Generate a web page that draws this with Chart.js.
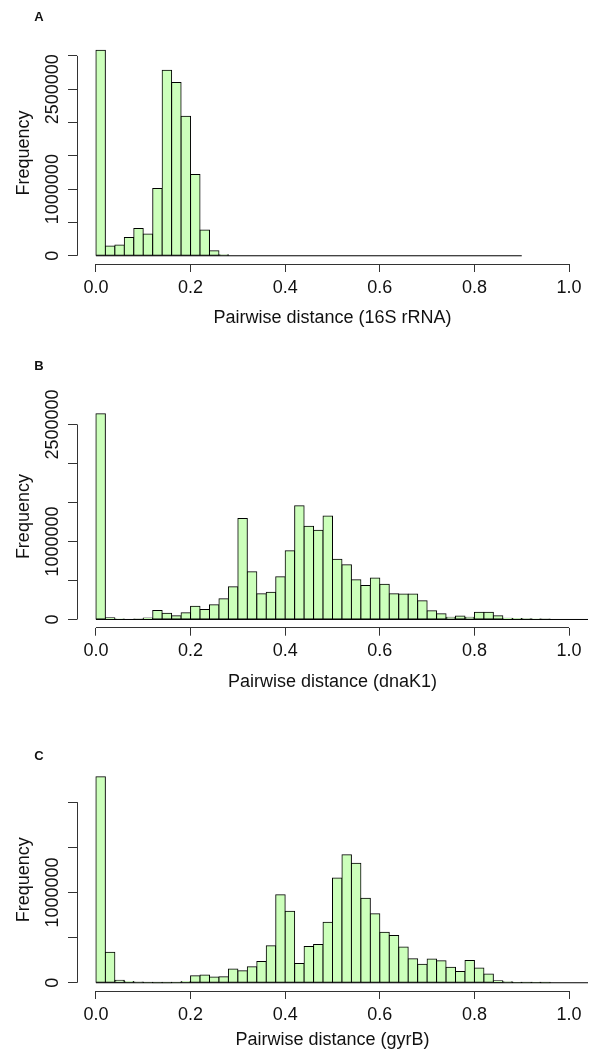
<!DOCTYPE html>
<html>
<head>
<meta charset="utf-8">
<script src="https://cdn.jsdelivr.net/npm/chart.js@4.4.1/dist/chart.umd.min.js"></script>
<style>
  body { margin: 0; background: #fff; width: 592px; height: 1053px; position: relative; overflow: hidden; }
  canvas { position: absolute; left: 0; }
</style>
</head>
<body>
<canvas id="chartA" width="592" height="351" style="top:0px"></canvas>
<canvas id="chartB" width="592" height="351" style="top:351px"></canvas>
<canvas id="chartC" width="592" height="351" style="top:702px"></canvas>
<script>
// histogram bins (left edges), width 0.02
const bins = [0.00, 0.02, 0.04, 0.06, 0.08, 0.10, 0.12, 0.14, 0.16, 0.18,
              0.20, 0.22, 0.24, 0.26, 0.28, 0.30, 0.32, 0.34, 0.36, 0.38,
              0.40, 0.42, 0.44, 0.46, 0.48, 0.50, 0.52, 0.54, 0.56, 0.58,
              0.60, 0.62, 0.64, 0.66, 0.68, 0.70, 0.72, 0.74, 0.76, 0.78,
              0.80, 0.82, 0.84, 0.86, 0.88, 0.90, 0.92, 0.94, 0.96, 0.98,
              1.00, 1.02]
const binWidth = 0.02
const xTicks = [0, 0.2, 0.4, 0.6, 0.8, 1.0]

// 16S rRNA
const counts16S = [3085000, 145000, 160000, 276000, 411000, 325000, 1011000, 2785000, 2600000, 2095000,
                   1221000, 385000, 75000, 15000, 0, 0, 0, 0, 0, 0,
                   0, 0, 0, 0, 0, 0, 0, 0, 0, 0,
                   0, 0, 0, 0, 0, 0, 0, 0, 0, 0,
                   0, 0, 0, 0, 0]
// dnaK1
const countsDnaK = [2637000, 21000, 3000, 0, 2000, 20000, 115000, 81000, 47000, 85000,
                    171000, 128000, 188000, 265000, 419000, 1295000, 611000, 329000, 350000, 547000,
                    880000, 1457000, 1196000, 1145000, 1325000, 773000, 701000, 508000, 436000, 530000,
                    453000, 329000, 325000, 325000, 239000, 111000, 73000, 30000, 43000, 30000,
                    94000, 94000, 47000, 17000, 13000, 8000, 3000, 1000, 0, 0,
                    0, 0]
// gyrB
const countsGyrB = [2282000, 339000, 29000, 15000, 7000, 2000, 1000, 1000, 2000, 15000,
                    77000, 85000, 63000, 66000, 151000, 133000, 177000, 236000, 409000, 973000,
                    793000, 214000, 402000, 424000, 671000, 1161000, 1416000, 1324000, 937000, 763000,
                    560000, 524000, 395000, 265000, 206000, 262000, 243000, 173000, 125000, 247000,
                    162000, 96000, 22000, 11000, 4000, 2000, 3000, 1000, 0, 0,
                    0, 0]

const yTicks16S = [0, 500000, 1000000, 1500000, 2000000, 2500000, 3000000]
const yLabels16S = [0, 1000000, 2500000]
const yTicksDnaK = [0, 500000, 1000000, 1500000, 2000000, 2500000]
const yLabelsDnaK = [0, 1000000, 2500000]
const yTicksGyrB = [0, 500000, 1000000, 1500000, 2000000]
const yLabelsGyrB = [0, 1000000]

const FONT = '"Liberation Sans", Arial, Helvetica, sans-serif'
const INK = '#111'
const AXIS = '#333'

// R-style axes: lines only from first to last tick, rotated y labels
const rAxes = {
    id: 'rAxes',
    afterDatasetsDraw(chart, args, opts){
        const {ctx, chartArea, scales: {x, y}} = chart
        ctx.save()
        ctx.beginPath()
        ctx.rect(chartArea.left, chartArea.top, chartArea.width, chartArea.height)
        ctx.clip()
        // empty bins still leave their outline on the baseline
        const x0 = x.getPixelForValue(opts.bins[0])
        const x1 = x.getPixelForValue(opts.bins[opts.bins.length - 1] + binWidth)
        const y0 = y.getPixelForValue(0)
        ctx.beginPath()
        ctx.strokeStyle = '#000'
        ctx.lineWidth = 1
        ctx.moveTo(x0, y0)
        ctx.lineTo(x1, y0)
        ctx.stroke()
        ctx.restore()
    },
    afterDraw(chart, args, opts){
        const {ctx, chartArea, scales: {x, y}} = chart
        ctx.save()
        ctx.strokeStyle = AXIS
        ctx.lineWidth = 1
        const bx = Math.floor(chartArea.bottom) + 0.5
        ctx.beginPath()
        ctx.moveTo(x.getPixelForValue(xTicks[0]), bx)
        ctx.lineTo(x.getPixelForValue(xTicks[xTicks.length - 1]), bx)
        const lx = Math.floor(chartArea.left) + 0.5
        ctx.moveTo(lx, y.getPixelForValue(opts.yTicks[0]))
        ctx.lineTo(lx, y.getPixelForValue(opts.yTicks[opts.yTicks.length - 1]))
        ctx.stroke()

        ctx.fillStyle = INK
        ctx.textAlign = 'center'
        ctx.textBaseline = 'middle'
        ctx.font = '18px ' + FONT
        opts.yLabels.forEach(v => {
            ctx.save()
            ctx.translate(chartArea.left - 24, y.getPixelForValue(v))
            ctx.rotate(-Math.PI / 2)
            ctx.fillText(String(v), 0, 0)
            ctx.restore()
        })
        ctx.save()
        ctx.translate(chartArea.left - 53, (chartArea.top + chartArea.bottom) / 2)
        ctx.rotate(-Math.PI / 2)
        ctx.fillText('Frequency', 0, 0)
        ctx.restore()

        ctx.font = 'bold 13px ' + FONT
        ctx.fillText(opts.letter, 39, opts.letterY)
        ctx.restore()
    }
}

function getHistograma(id, counts, yTicks, yLabels, titulo, letra, caja){
    const usados = bins.slice(0, counts.length)
    const ymax = Math.max(...counts)
    const ctx = document.getElementById(id)
    return new Chart(ctx, {
        type: 'bar',
        data: {
            datasets: [{
                data: usados.map((b, i) => ({x: b + binWidth / 2, y: counts[i]})),
                backgroundColor: '#ccffbb',
                borderColor: '#000',
                borderWidth: 1,
                borderSkipped: false,
                inflateAmount: 0.5,
                barPercentage: 1,
                categoryPercentage: 1
            }]
        },
        options: {
            responsive: false,
            animation: false,
            layout: { padding: { top: caja.top, bottom: caja.bottom, left: 0, right: 4 } },
            plugins: {
                legend: { display: false },
                tooltip: { enabled: false },
                rAxes: { bins: usados, yTicks: yTicks, yLabels: yLabels, letter: letra, letterY: caja.letterY }
            },
            scales: {
                x: {
                    type: 'linear',
                    min: -0.04,
                    max: 1.04,
                    offset: false,
                    afterBuildTicks: s => { s.ticks = xTicks.map(v => ({value: v})) },
                    afterFit: s => { s.height = caja.axis },
                    border: { display: false },
                    grid: { offset: false, drawOnChartArea: false, drawTicks: true, tickLength: 8, color: AXIS, lineWidth: 1 },
                    ticks: {
                        autoSkip: false,
                        maxRotation: 0,
                        padding: 5,
                        color: INK,
                        font: { family: FONT, size: 18 },
                        callback: v => v.toFixed(1)
                    },
                    title: {
                        display: true,
                        text: titulo,
                        color: INK,
                        font: { family: FONT, size: 18 },
                        padding: { top: 0, bottom: 0 }
                    }
                },
                y: {
                    type: 'linear',
                    min: -0.04 * ymax,
                    max: 1.04 * ymax,
                    afterBuildTicks: s => { s.ticks = yTicks.map(v => ({value: v})) },
                    afterFit: s => { s.width = 77 },
                    border: { display: false },
                    grid: { drawOnChartArea: false, drawTicks: true, tickLength: 9, color: AXIS, lineWidth: 1 },
                    ticks: { display: false }
                }
            }
        },
        plugins: [rAxes]
    })
}

getHistograma('chartA', counts16S, yTicks16S, yLabels16S, 'Pairwise distance (16S rRNA)', 'A',
    { top: 42, bottom: 22, axis: 65, letterY: 17 })
getHistograma('chartB', countsDnaK, yTicksDnaK, yLabelsDnaK, 'Pairwise distance (dnaK1)', 'B',
    { top: 54.5, bottom: 9.3, axis: 65, letterY: 15 })
getHistograma('chartC', countsGyrB, yTicksGyrB, yLabelsGyrB, 'Pairwise distance (gyrB)', 'C',
    { top: 66.4, bottom: 2, axis: 60, letterY: 54 })
</script>
</body>
</html>
